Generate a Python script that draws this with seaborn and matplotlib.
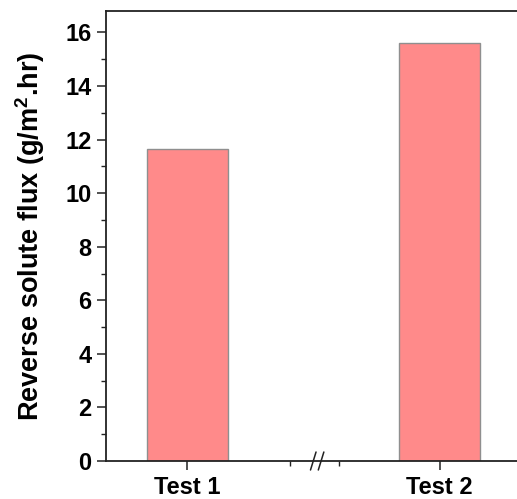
import numpy as np
import pandas as pd
import matplotlib
matplotlib.use("Agg")
import matplotlib.pyplot as plt
import seaborn as sns

# data
tests = ["Test 1", "Test 2"]
flux = [11.65, 15.6]

sns.set_style("ticks")
plt.rcParams['font.family'] = ['Liberation Sans', 'DejaVu Sans']
plt.rcParams['font.weight'] = 'bold'
plt.rcParams['text.color'] = 'black'
plt.rcParams['axes.labelcolor'] = 'black'
plt.rcParams['xtick.color'] = 'black'
plt.rcParams['ytick.color'] = 'black'
plt.rcParams['mathtext.fontset'] = 'custom'
plt.rcParams['mathtext.bf'] = 'Liberation Sans:bold'
plt.rcParams['mathtext.rm'] = 'Liberation Sans:bold'

df = pd.DataFrame({"Test": tests, "Flux": flux})

fig = plt.figure(figsize=(5.17, 4.99), dpi=100)
ax = fig.add_axes([106/517, 38/499, (517-106)/517, 450/499])

sns.barplot(data=df, x="Test", y="Flux", ax=ax, color="#FF8A8A", saturation=1,
            width=0.32, edgecolor="#8f8f8f", linewidth=1)

ax.set_xlim(-0.323, 1.307)
ax.set_ylim(0, 16.8)
ax.set_yticks(np.arange(0, 17, 2))
ax.set_yticks(np.arange(1, 17, 2), minor=True)
ax.set_xticks([0, 1])
ax.set_xticklabels(tests)
ax.set_xticks([0.407, 0.601], minor=True)

ax.tick_params(axis='both', which='major', labelsize=17, length=6.5, width=1.1,
               color='#222222', labelcolor='black')
ax.tick_params(axis='x', which='major', pad=4)
ax.tick_params(axis='y', which='major', pad=4)
ax.tick_params(axis='both', which='minor', length=3.5, width=1.0, color='#222222')
for lab in ax.get_xticklabels() + ax.get_yticklabels():
    lab.set_fontweight('bold')

for side in ['left', 'bottom', 'top']:
    ax.spines[side].set_linewidth(1.3)
    ax.spines[side].set_color('#222222')
ax.spines['right'].set_visible(False)

ax.set_xlabel("")
ax.set_ylabel(r"Reverse solute flux (g/m$^{\mathbf{2}}$.hr)", fontsize=19.5,
              fontweight='bold', color='black', labelpad=13)

# axis break marks
tr = ax.get_xaxis_transform()
ax.plot([0.482, 0.532], [0, 0], transform=tr, color='white', lw=3, clip_on=False, zorder=2.5)
for x0 in [0.488, 0.519]:
    ax.plot([x0, x0 + 0.022], [-0.02, 0.02], transform=tr, color='#222222',
            lw=1.1, clip_on=False, zorder=3)

fig.savefig("out.png", dpi=100)
